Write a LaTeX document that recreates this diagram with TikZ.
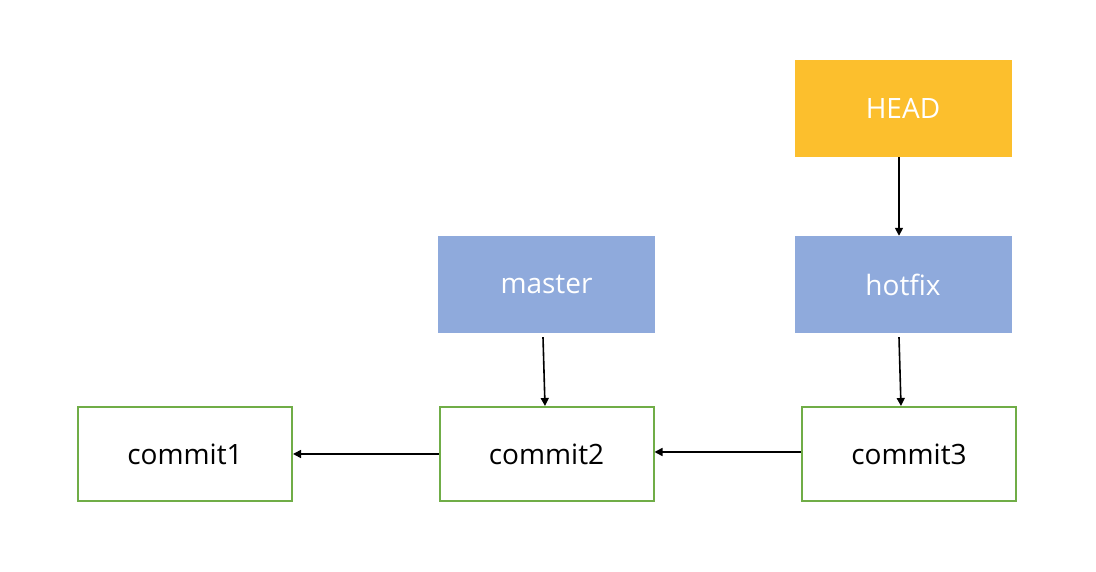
\documentclass[tikz,border=0pt]{standalone}
\usepackage{fontspec}
\setmainfont{Open Sans}
\usepackage{tikz}
\usetikzlibrary{arrows.meta, positioning}
\definecolor{headorange}{RGB}{252,191,45}
\definecolor{branchblue}{RGB}{143,170,220}
\definecolor{commitgreen}{RGB}{112,173,71}
\tikzset{
    refnode/.style = {rectangle, draw=none, text=white, minimum width=217pt, minimum height=97pt,
      inner sep=0pt, font=\fontsize{28}{33}\selectfont},
    headnode/.style = {refnode, fill=headorange},
    branchnode/.style = {refnode, fill=branchblue},
    commitnode/.style = {rectangle, draw=commitgreen, line width=2pt, fill=white, minimum width=214pt,
      minimum height=94pt, inner sep=0pt, font=\fontsize{28}{33}\selectfont},
    connect/.style = {black, line width=1.6pt, -{Triangle[length=8pt,width=8pt]}}
}
\begin{document}
\begin{tikzpicture}[x=1pt, y=1pt]
    \useasboundingbox (0,0) rectangle (1096,572);

    % commits
    \node [name=c1, commitnode] at (185,118) {commit1};
    \node [name=c2, commitnode] at (546.5,118) {commit2};
    \node [name=c3, commitnode] at (909,118) {commit3};

    % branches and HEAD
    \node [name=master, branchnode] at (546.5,287.5) {master};
    \node [name=hotfix, branchnode] at (903,287.5) {hotfix};
    \node [name=head, headnode] at (903,463.5) {HEAD};

    \draw [connect] (c2.west) -- (c1.east);
    \draw [connect] ([yshift=2pt]c3.west) -- ([yshift=2pt]c2.east);
    \draw [connect] ([xshift=-3.5pt,yshift=-4pt]master.south) -- ([xshift=-1.5pt]c2.north);
    \draw [connect] ([xshift=-4pt,yshift=-4pt]hotfix.south) -- ([xshift=-8pt]c3.north);
    \draw [connect] ([xshift=-4pt]head.south) -- ([xshift=-4pt]hotfix.north);
\end{tikzpicture}
\end{document}
